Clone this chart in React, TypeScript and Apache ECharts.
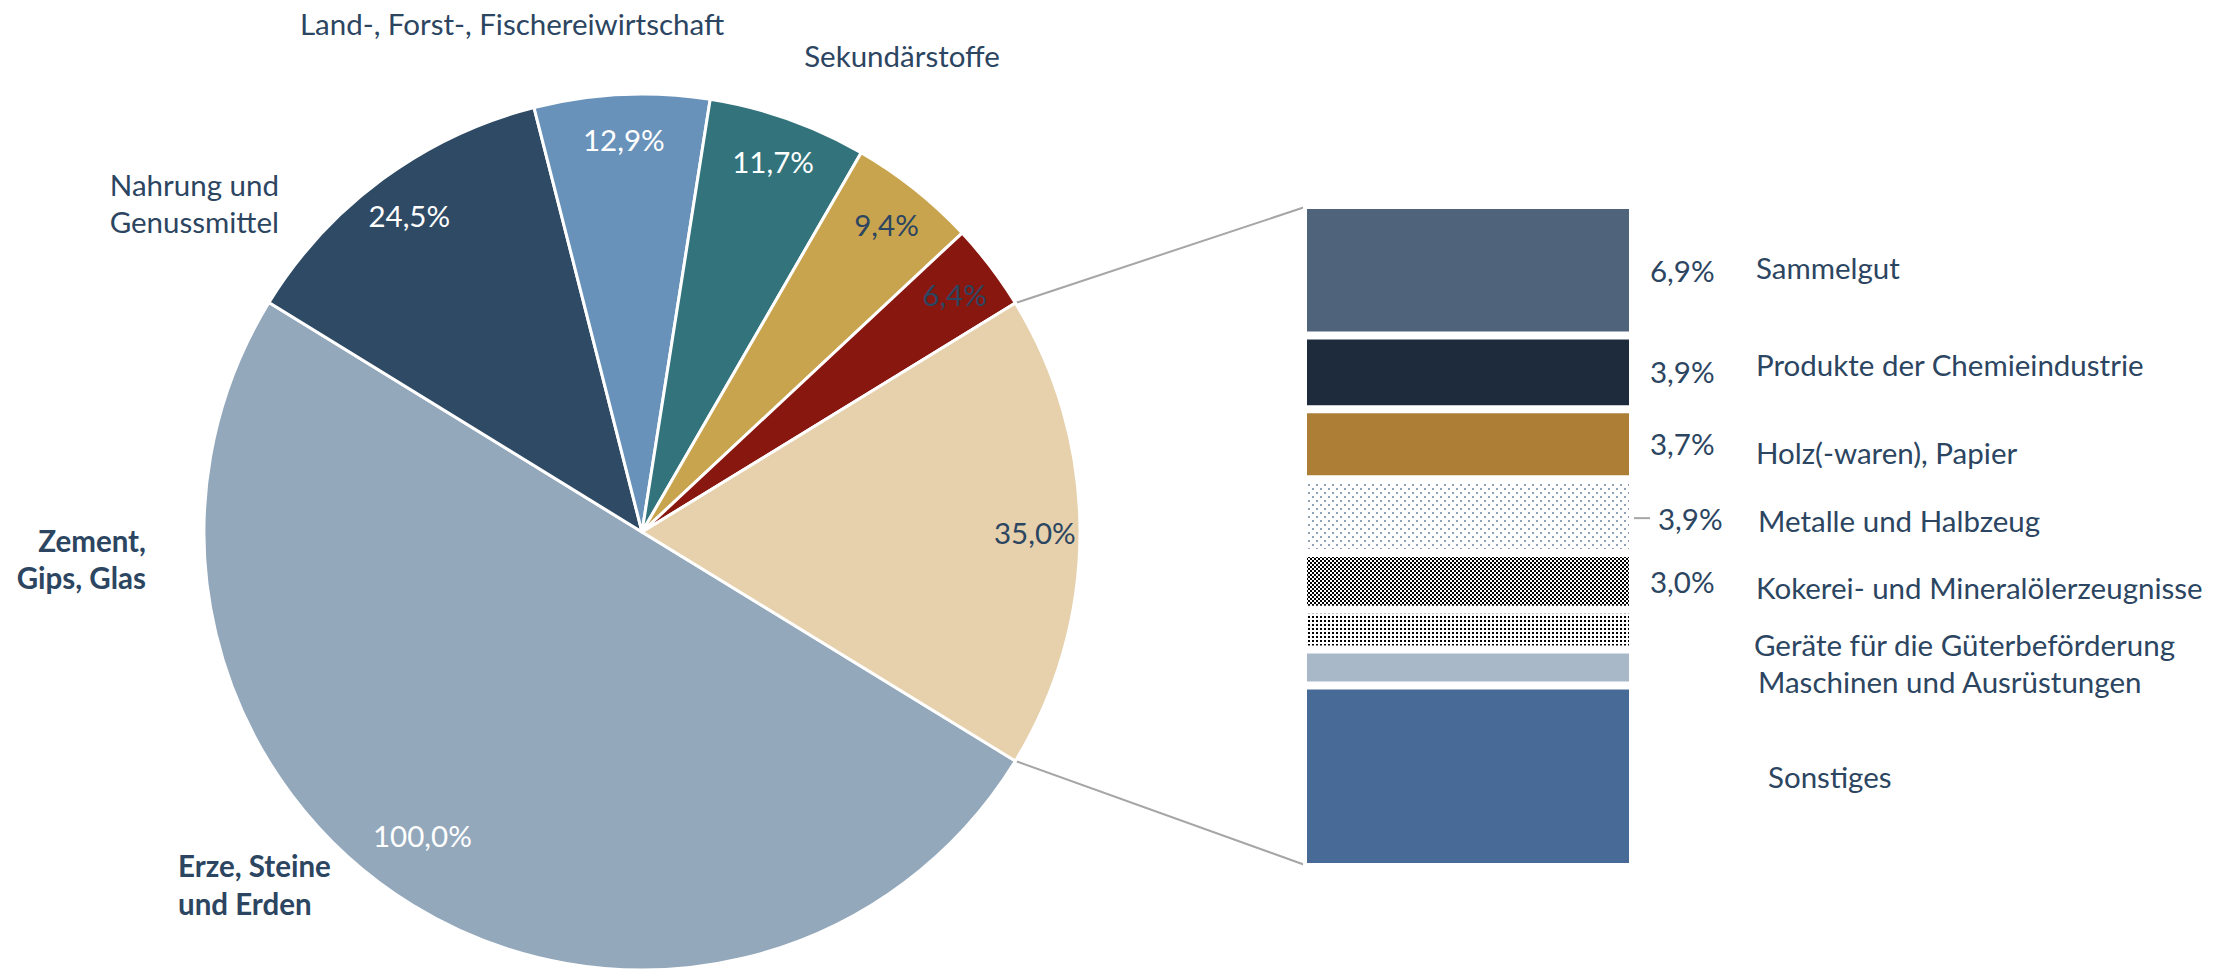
import React, { useEffect, useRef } from "react";
import * as echarts from "echarts";

// ---------- data ----------
const pieNames = [
  "Erze, Steine und Erden",
  "Nahrung und Genussmittel",
  "Land-, Forst-, Fischereiwirtschaft",
  "Sekundärstoffe",
  "Segment 5",
  "Segment 6",
  "Übrige Güter",
];
const pieValues = [100.0, 24.5, 12.9, 11.7, 9.4, 6.4, 35.0];
const pieColors = ["#94a8bc", "#2f4a64", "#6892ba", "#33737c", "#c9a44e", "#88170f", "#e6d1ac"];
const pieLabelDark = [false, false, false, false, true, true, true];

// stacked bar, listed top to bottom
const barNames = [
  "Sammelgut",
  "Produkte der Chemieindustrie",
  "Holz(-waren), Papier",
  "Metalle und Halbzeug",
  "Kokerei- und Mineralölerzeugnisse",
  "Geräte für die Güterbeförderung",
  "Maschinen und Ausrüstungen",
  "Sonstiges",
];
const barValues = [6.9, 3.9, 3.7, 3.9, 3.0, 2.1, 1.9, 9.6];
const barShowValue = [true, true, true, true, true, false, false, false];

// annotation names around the pie
const pieAnnotations = [
  "Land-, Forst-, Fischereiwirtschaft",
  "Sekundärstoffe",
  "Nahrung und\nGenussmittel",
  "Zement,\nGips, Glas",
  "Erze, Steine\nund Erden",
];

// ---------- layout / style ----------
const W = 2228;
const H = 972;
const CX = 642;
const CY = 532;
const R = 438;
const BAR_LEFT = 1303;
const BAR_TOP = 205;
const BAR_W = 330;
const BAR_H = 662;
const FONT = 'Lato, "Noto Sans", sans-serif';
const TXT = "#2c4561";
const FS = 29.5;

const fmt = (v: number) => v.toFixed(1).replace(".", ",") + "%";

function makePattern(size: number, draw: (ctx: CanvasRenderingContext2D) => void) {
  const c = document.createElement("canvas");
  c.width = size;
  c.height = size;
  const ctx = c.getContext("2d")!;
  ctx.fillStyle = "#ffffff";
  ctx.fillRect(0, 0, size, size);
  draw(ctx);
  return { image: c.toDataURL(), repeat: "repeat", imageWidth: size, imageHeight: size } as any;
}

export default function App() {
  const ref = useRef<HTMLDivElement>(null);

  useEffect(() => {
    document.body.style.margin = "0";
    const chart = echarts.init(ref.current!, null, { renderer: "svg" });

    const metalPattern = makePattern(8, (ctx) => {
      ctx.fillStyle = "#8fa2b8";
      ctx.fillRect(0, 0, 2, 2);
      ctx.fillRect(4, 4, 2, 2);
    });
    const checkPattern = makePattern(4, (ctx) => {
      ctx.fillStyle = "#000000";
      ctx.fillRect(0, 0, 2, 2);
      ctx.fillRect(2, 2, 2, 2);
    });
    const dotPattern = makePattern(4, (ctx) => {
      ctx.fillStyle = "#000000";
      ctx.fillRect(0, 0, 2, 2);
    });

    const barColors: any[] = [
      "#4f647a",
      "#1e2b3c",
      "#ad7f36",
      metalPattern,
      checkPattern,
      dotPattern,
      "#a9b8c8",
      "#476b96",
    ];
    const valueOffsetY = [0, -1, -1, 2, 0, 0, 0, 0];
    const nameOffset: [number, number][] = [
      [0, -3],
      [0, -8],
      [0, 8],
      [2, 4],
      [0, 6],
      [-2, 15],
      [2, 14],
      [12, 0],
    ];

    const total = pieValues.reduce((a, b) => a + b, 0);
    const half = (pieValues[pieValues.length - 1] / total) * 180;
    const hr = (half * Math.PI) / 180;
    const px = CX + R * Math.cos(hr);
    const pyTop = CY - R * Math.sin(hr);
    const pyBot = CY + R * Math.sin(hr);
    const barMax = pieValues[pieValues.length - 1];

    const order = barNames.map((_, i) => i).reverse(); // bottom-up stacking

    const labelBase = { color: TXT, fontSize: FS, fontFamily: FONT };

    const valueSeries = order.map((i) => ({
      type: "bar",
      name: barNames[i],
      stack: "v",
      barWidth: "100%",
      barGap: "-100%",
      silent: true,
      data: [barValues[i]],
      itemStyle: { color: barColors[i], borderColor: "#ffffff", borderWidth: 4 },
      label:
        i === 3
          ? {
              show: true,
              position: "right",
              distance: 1,
              offset: [0, valueOffsetY[i]],
              formatter: () => "{l|}{v|" + fmt(barValues[i]) + "}",
              ...labelBase,
              rich: {
                l: { width: 16, height: 2, backgroundColor: "#a6a6a6" },
                v: { ...labelBase, padding: [0, 0, 0, 8] },
              },
            }
          : {
              show: barShowValue[i],
              position: "right",
              distance: 17,
              offset: [0, valueOffsetY[i]],
              formatter: () => fmt(barValues[i]),
              ...labelBase,
            },
    }));

    const nameSeries = order.map((i) => ({
      type: "bar",
      name: barNames[i] + " ",
      stack: "n",
      barWidth: "100%",
      barGap: "-100%",
      silent: true,
      data: [barValues[i]],
      itemStyle: { color: "rgba(0,0,0,0)", borderWidth: 0 },
      label: {
        show: true,
        position: "right",
        distance: 123,
        offset: nameOffset[i],
        formatter: () => barNames[i],
        ...labelBase,
      },
    }));

    const baseText = { fill: TXT, fontSize: FS, fontFamily: FONT };

    chart.setOption({
      animation: false,
      grid: { left: BAR_LEFT, top: BAR_TOP, width: BAR_W, height: BAR_H, containLabel: false },
      xAxis: { type: "category", data: [""], show: false },
      yAxis: { type: "value", min: 0, max: barMax, show: false },
      series: [
        {
          type: "pie",
          center: [CX, CY],
          radius: R,
          startAngle: -half,
          clockwise: true,
          silent: true,
          label: { show: false },
          labelLine: { show: false },
          itemStyle: { borderColor: "#ffffff", borderWidth: 3 },
          data: pieValues.map((v, i) => ({ value: v, name: pieNames[i], itemStyle: { color: pieColors[i] } })),
        },
        {
          type: "pie",
          center: [CX, CY],
          radius: [R * 0.78, R],
          startAngle: -half,
          clockwise: true,
          silent: true,
          itemStyle: { color: "rgba(0,0,0,0)", borderWidth: 0 },
          labelLine: { show: false },
          label: {
            show: true,
            position: "inside",
            fontSize: FS,
            fontFamily: FONT,
            formatter: (p: any) => fmt(p.value),
          },
          data: pieValues.map((v, i) => ({
            value: v,
            name: pieNames[i] + " ",
            label: {
              color: pieLabelDark[i] ? TXT : "#ffffff",
              offset: i === 0 ? [-14, -31] : [0, 0],
            },
          })),
        },
        ...valueSeries,
        ...nameSeries,
      ],
      graphic: [
        { type: "line", silent: true, shape: { x1: px, y1: pyTop, x2: BAR_LEFT + 2, y2: BAR_TOP + 2 }, style: { stroke: "#a6a6a6", lineWidth: 2 } },
        { type: "line", silent: true, shape: { x1: px, y1: pyBot, x2: BAR_LEFT + 2, y2: BAR_TOP + BAR_H - 2 }, style: { stroke: "#a6a6a6", lineWidth: 2 } },
        { type: "text", x: 512, y: 23, style: { ...baseText, text: pieAnnotations[0], textAlign: "center", textVerticalAlign: "middle", align: "center", verticalAlign: "middle" } },
        { type: "text", x: 902, y: 55, style: { ...baseText, text: pieAnnotations[1], textAlign: "center", textVerticalAlign: "middle", align: "center", verticalAlign: "middle" } },
        { type: "text", x: 279, y: 203, style: { ...baseText, text: pieAnnotations[2], lineHeight: 37, textAlign: "right", textVerticalAlign: "middle", align: "right", verticalAlign: "middle" } },
        { type: "text", x: 146, y: 559, style: { ...baseText, fontWeight: "bold", text: pieAnnotations[3], lineHeight: 37, textAlign: "right", textVerticalAlign: "middle", align: "right", verticalAlign: "middle" } },
        { type: "text", x: 178, y: 884, style: { ...baseText, fontWeight: "bold", text: pieAnnotations[4], lineHeight: 38, textAlign: "left", textVerticalAlign: "middle", align: "left", verticalAlign: "middle" } },
      ],
    });

    return () => chart.dispose();
  }, []);

  return <div ref={ref} style={{ width: W, height: H }} />;
}
